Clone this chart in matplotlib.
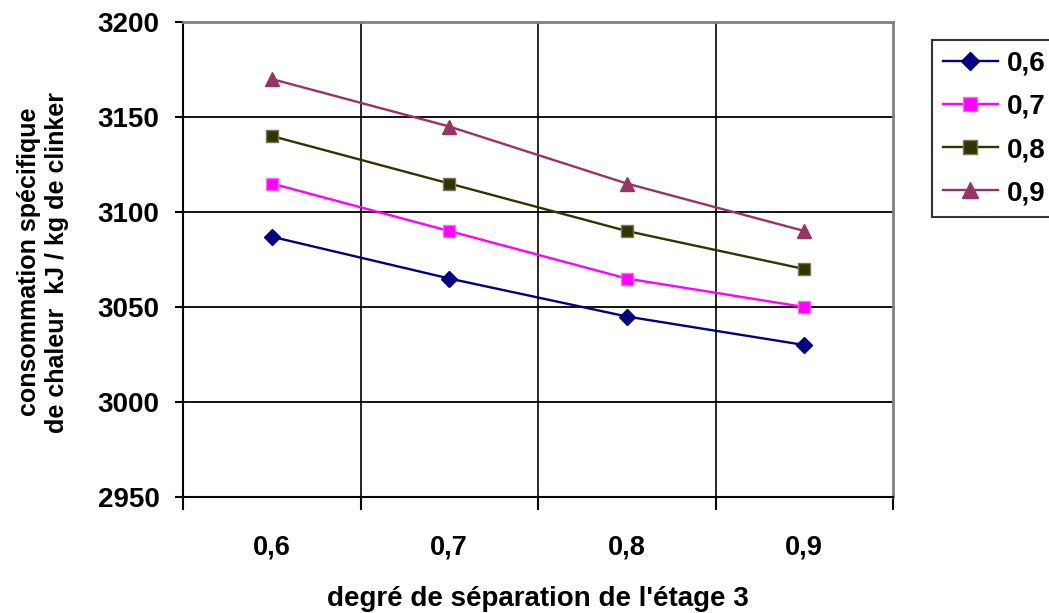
import matplotlib
matplotlib.use("Agg")
import matplotlib.pyplot as plt

categories = ["0,6", "0,7", "0,8", "0,9"]
series_labels = ["0,6", "0,7", "0,8", "0,9"]
s06 = [3087, 3065, 3045, 3030]
s07 = [3115, 3090, 3065, 3050]
s08 = [3140, 3115, 3090, 3070]
s09 = [3170, 3145, 3115, 3090]
y_ticks = [2950, 3000, 3050, 3100, 3150, 3200]

plt.rcParams['font.family'] = ['Liberation Sans', 'DejaVu Sans']
plt.rcParams['font.weight'] = 'bold'

fig = plt.figure(figsize=(10.49, 6.13), dpi=100)
ax = fig.add_axes([183/1049, 1-497/613, (893-183)/1049, (497-22)/613])

x = list(range(len(categories)))
styles = [
    dict(color="#000080", marker="D", ms=8, mfc="#000080", mec="#000080"),
    dict(color="#FF00FF", marker="s", ms=9, mfc="#FF00FF", mec="#FF66FF"),
    dict(color="#333300", marker="s", ms=9, mfc="#333300", mec="#777755"),
    dict(color="#993366", marker="^", ms=10, mfc="#993366", mec="#993366"),
]
for vals, lab, st in zip([s06, s07, s08, s09], series_labels, styles):
    ax.plot(x, vals, label=lab, lw=1.7, mew=1, **st)

ax.set_xlim(-0.5, 3.5)
ax.set_ylim(2950, 3200)
ax.set_yticks(y_ticks)
ax.set_yticklabels([str(v) for v in y_ticks], fontsize=20, fontweight='bold')
ax.set_xticks(x)
ax.set_xticklabels(categories, fontsize=19.5, fontweight='bold')
ax.tick_params(axis='x', length=0, pad=27)
ax.set_xticks([-0.5, 0.5, 1.5, 2.5, 3.5], minor=True)
ax.tick_params(axis='x', which='minor', length=9, width=1.5, direction='out', color='black')
ax.tick_params(axis='y', length=6, width=1.5, direction='out', pad=11)

for v in y_ticks[1:]:
    ax.axhline(v, color='black', lw=1.3, zorder=0)
for b in [0.5, 1.5, 2.5]:
    ax.axvline(b, color='black', lw=1.2, zorder=0)

ax.spines['left'].set_color('black')
ax.spines['left'].set_linewidth(1.5)
ax.spines['bottom'].set_color('black')
ax.spines['bottom'].set_linewidth(1.5)
ax.spines['top'].set_color('#808080')
ax.spines['top'].set_linewidth(2)
ax.spines['right'].set_color('#808080')
ax.spines['right'].set_linewidth(2)

ax.set_xlabel("degré de séparation de l'étage 3", fontsize=20, fontweight='bold', labelpad=18)
fig.text(43/1049, 1-262/613, "consommation spécifique\nde chaleur  kJ / kg de clinker",
         rotation=90, ha='center', va='center', fontsize=18, fontweight='bold',
         linespacing=1.25)

leg = fig.legend(loc='upper left', bbox_to_anchor=(932/1049, 1-40/613),
                 frameon=True, fancybox=False, prop={'weight': 'bold', 'size': 20},
                 handlelength=2.0, borderpad=0.38, labelspacing=0.62, handletextpad=0.3,
                 borderaxespad=0, markerscale=1.15)
leg.get_frame().set_edgecolor('black')
leg.get_frame().set_linewidth(1.5)

fig.savefig("out.png", dpi=100)
